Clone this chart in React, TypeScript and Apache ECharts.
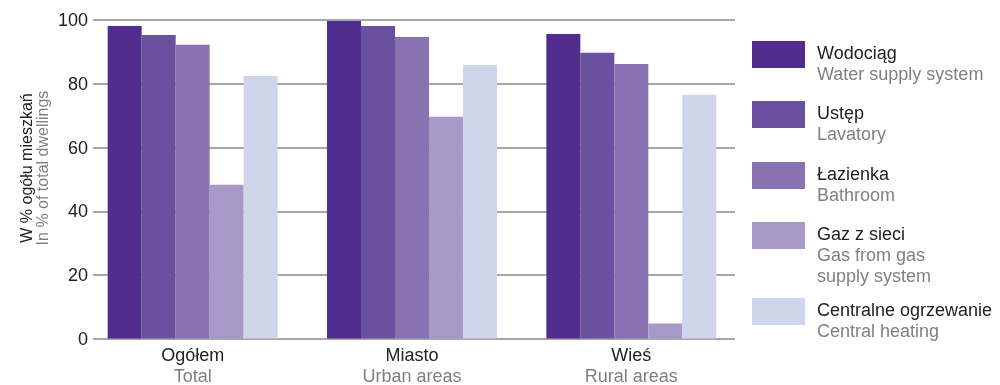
import React, { useEffect, useRef } from "react";
import * as echarts from "echarts";

const categoriesPl = ["Ogółem", "Miasto", "Wieś"];
const categoriesEn = ["Total", "Urban areas", "Rural areas"];

const seriesPl = ["Wodociąg", "Ustęp", "Łazienka", "Gaz z sieci", "Centralne ogrzewanie"];
const seriesEn = ["Water supply system", "Lavatory", "Bathroom", "Gas from gas\nsupply system", "Central heating"];
const seriesColors = ["#522d90", "#6a51a0", "#8872b2", "#a898c8", "#cfd5ea"];

const wodociag = [98.1, 99.7, 95.6];
const ustep = [95.3, 98.1, 89.7];
const lazienka = [92.2, 94.7, 86.2];
const gaz = [48.3, 69.6, 4.7];
const centralne = [82.4, 85.9, 76.5];
const seriesValues = [wodociag, ustep, lazienka, gaz, centralne];

const yTicks = [0, 20, 40, 60, 80, 100];

const FONT = "'Liberation Sans', Arial, sans-serif";
const DARK = "#222222";
const GREY = "#808080";
const FS = 18;

export default function App() {
  const ref = useRef<HTMLDivElement>(null);

  useEffect(() => {
    if (!ref.current) return;
    const chart = echarts.init(ref.current, undefined, { renderer: "svg" });

    // legend drawn as swatch + two-language caption
    const legendTops = [41, 101, 162, 222, 298];
    const legendItems: any[] = [];
    seriesPl.forEach((name, i) => {
      const top = legendTops[i];
      legendItems.push({
        type: "rect",
        shape: { x: 752, y: top, width: 53, height: 27 },
        style: { fill: seriesColors[i] },
        silent: true,
      });
      legendItems.push({
        type: "text",
        x: 817,
        y: top + 1,
        style: {
          text: `{a|${name}}\n{b|${seriesEn[i].split("\n").join("}\n{b|")}}`,
          rich: {
            a: { fontSize: FS, fill: DARK, lineHeight: 21, fontFamily: FONT },
            b: { fontSize: FS, fill: GREY, lineHeight: 21, fontFamily: FONT },
          },
          verticalAlign: "top",
          align: "left",
        },
        silent: true,
      });
    });

    const option: any = {
      animation: false,
      textStyle: { fontFamily: FONT },
      grid: [
        { left: 103, right: 265, top: 20, bottom: 46 },
        { left: 83, right: 259, top: 20, bottom: 46 },
      ],
      xAxis: [
        { type: "category", gridIndex: 0, data: categoriesPl, show: false },
        {
          type: "category",
          gridIndex: 1,
          data: categoriesPl,
          axisLine: { show: false },
          axisTick: { show: false },
          axisLabel: {
            margin: 6,
            formatter: (v: string, idx: number) => `{a|${v}}\n{b|${categoriesEn[idx]}}`,
            rich: {
              a: { fontSize: FS, color: DARK, lineHeight: 21, fontFamily: FONT },
              b: { fontSize: FS, color: GREY, lineHeight: 21, fontFamily: FONT },
            },
          },
        },
      ],
      yAxis: [
        {
          type: "value",
          gridIndex: 0,
          min: yTicks[0],
          max: yTicks[yTicks.length - 1],
          interval: 20,
          axisLine: { show: false },
          axisTick: { show: true, length: 10, lineStyle: { color: "#8a8a8a", width: 1.5 } },
          axisLabel: { margin: 15, fontSize: FS, color: DARK, fontFamily: FONT },
          splitLine: { show: true, lineStyle: { color: "#8a8a8a", width: 1.5 } },
        },
        {
          type: "value",
          gridIndex: 1,
          min: yTicks[0],
          max: yTicks[yTicks.length - 1],
          interval: 20,
          show: false,
          splitLine: { show: false },
        },
      ],
      series: seriesPl.map((name, i) => ({
        name,
        type: "bar",
        xAxisIndex: 1,
        yAxisIndex: 1,
        data: seriesValues[i],
        itemStyle: { color: seriesColors[i] },
        barGap: "0%",
        barCategoryGap: "22.5%",
      })),
      graphic: [
        {
          type: "text",
          x: 34,
          y: 168,
          rotation: Math.PI / 2,
          style: {
            text: "{a|W % ogółu mieszkań}\n{b|In % of total dwellings}",
            rich: {
              a: { fontSize: 16, fill: DARK, lineHeight: 16, fontFamily: FONT },
              b: { fontSize: 16, fill: GREY, lineHeight: 16, fontFamily: FONT },
            },
            align: "center",
            verticalAlign: "middle",
          },
          silent: true,
        },
        ...legendItems,
      ],
    };

    chart.setOption(option);
    return () => chart.dispose();
  }, []);

  return (
    <div
      ref={ref}
      style={{ position: "fixed", left: 0, top: 0, width: 1000, height: 385, overflow: "hidden" }}
    />
  );
}
